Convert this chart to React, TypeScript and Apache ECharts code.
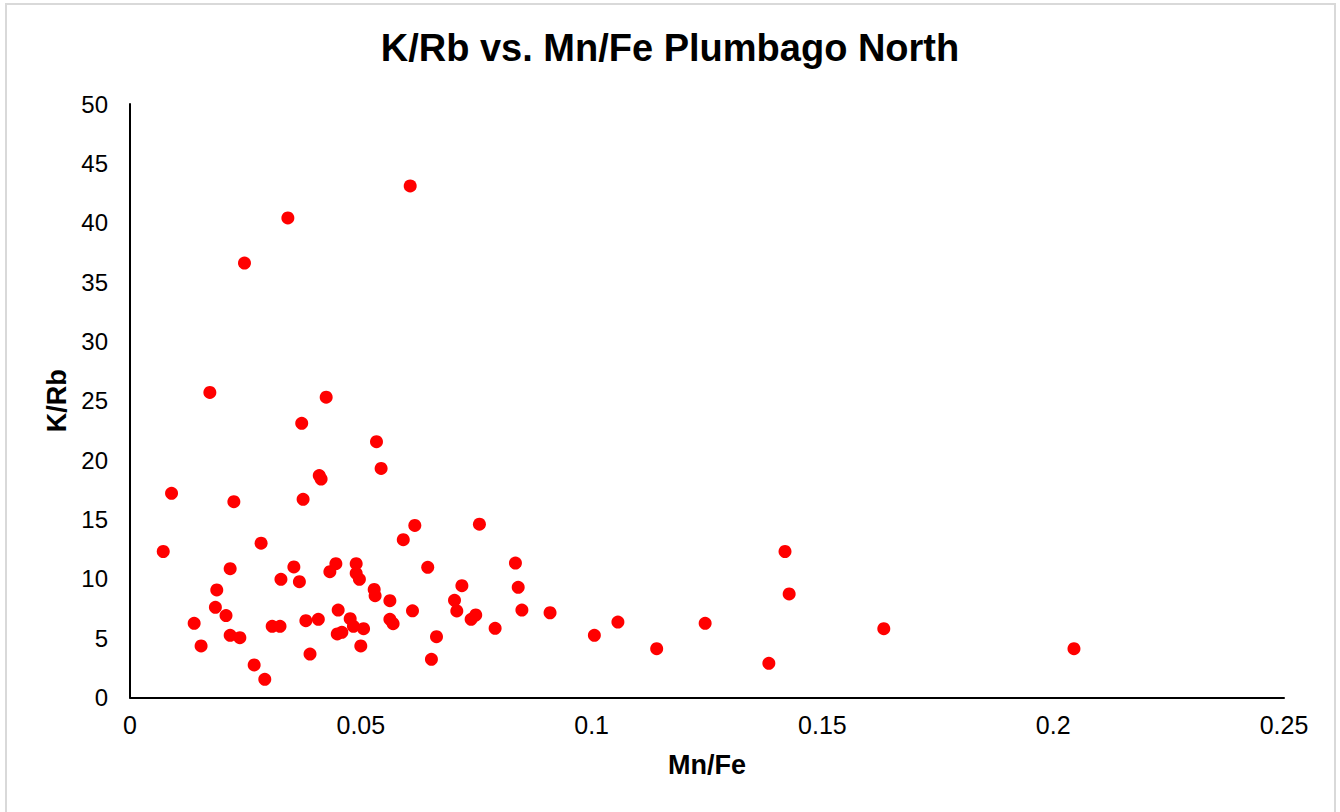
import React, { useEffect, useRef } from "react";
import * as echarts from "echarts";

const titleText = "K/Rb vs. Mn/Fe Plumbago North";
const xAxisName = "Mn/Fe";
const yAxisName = "K/Rb";

const mnFe: number[] = [
  0.0173, 0.0425, 0.0372, 0.0534, 0.0544, 0.041, 0.0414, 0.009, 0.0225, 0.0375,
  0.0617, 0.0592, 0.0072, 0.0284, 0.0217, 0.0355, 0.0327, 0.0367, 0.0446, 0.0433,
  0.049, 0.049, 0.0497, 0.0188, 0.0185, 0.0529, 0.0531, 0.0563, 0.0612, 0.0208,
  0.0451, 0.0139, 0.0308, 0.0325, 0.0381, 0.0408, 0.0477, 0.0484, 0.0506, 0.0563,
  0.057, 0.0449, 0.0459, 0.0217, 0.0238, 0.0154, 0.05, 0.039, 0.0269, 0.0292,
  0.0757, 0.0645, 0.0835, 0.0841, 0.0719, 0.0703, 0.0708, 0.0849, 0.091, 0.0749,
  0.0739, 0.0791, 0.0664, 0.0653, 0.1006, 0.1057, 0.1141, 0.1246, 0.1419, 0.1428,
  0.1384, 0.1633, 0.2045, 0.0607, 0.0342, 0.0248,
];

const kRb: number[] = [
  25.7, 25.3, 23.1, 21.55, 19.3, 18.7, 18.4, 17.2, 16.5, 16.7,
  14.5, 13.3, 12.3, 13.0, 10.85, 11.0, 9.96, 9.76, 11.27, 10.6,
  11.27, 10.46, 9.96, 9.06, 7.6, 9.1, 8.58, 8.16, 7.3, 6.9,
  7.37, 6.25, 6.0, 6.0, 6.47, 6.59, 6.64, 6.0, 5.8, 6.59,
  6.22, 5.35, 5.49, 5.24, 5.04, 4.34, 4.34, 3.66, 2.74, 1.53,
  14.6, 10.97, 11.33, 9.28, 9.42, 8.19, 7.29, 7.37, 7.14, 6.95,
  6.59, 5.83, 5.12, 3.22, 5.24, 6.36, 4.11, 6.25, 12.3, 8.72,
  2.88, 5.8, 4.11, 43.1, 40.4, 36.6,
];

const xTicks = { min: 0, max: 0.25, interval: 0.05 };
const yTicks = { min: 0, max: 50, interval: 5 };

export default function App() {
  const ref = useRef<HTMLDivElement>(null);
  useEffect(() => {
    if (!ref.current) return;
    const chart = echarts.init(ref.current, null, { renderer: "svg" });
    const font = "'Liberation Sans', Arial, sans-serif";
    chart.setOption({
      animation: false,
      backgroundColor: "#ffffff",
      textStyle: { fontFamily: font },
      title: {
        text: titleText,
        left: "center",
        top: 24,
        textStyle: { fontSize: 38, fontWeight: "bold", color: "#000", fontFamily: font },
      },
      graphic: [
        {
          type: "rect",
          shape: { x: 6, y: 4, width: 1329, height: 830 },
          style: { fill: "none", stroke: "#d9d9d9", lineWidth: 2 },
          silent: true,
        },
      ],
      grid: { left: 130, right: 56, top: 104, bottom: 114.5 },
      xAxis: {
        type: "value",
        min: xTicks.min,
        max: xTicks.max,
        interval: xTicks.interval,
        name: xAxisName,
        nameLocation: "middle",
        nameGap: 54,
        nameTextStyle: { fontSize: 27, fontWeight: "bold", color: "#000", fontFamily: font },
        axisLine: { show: true, lineStyle: { color: "#000", width: 2 } },
        axisTick: { show: false },
        splitLine: { show: false },
        axisLabel: { fontSize: 25, color: "#000", margin: 15, fontFamily: font },
      },
      yAxis: {
        type: "value",
        min: yTicks.min,
        max: yTicks.max,
        interval: yTicks.interval,
        name: yAxisName,
        nameLocation: "middle",
        nameGap: 59,
        nameTextStyle: { fontSize: 27, fontWeight: "bold", color: "#000", fontFamily: font },
        axisLine: { show: true, lineStyle: { color: "#000", width: 2 } },
        axisTick: { show: false },
        splitLine: { show: false },
        axisLabel: { fontSize: 24, color: "#000", margin: 22, fontFamily: font },
      },
      series: [
        {
          type: "scatter",
          data: mnFe.map((x, i) => [x, kRb[i]]),
          symbol: "circle",
          symbolSize: 13,
          itemStyle: { color: "#ff0000", opacity: 1 },
        },
      ],
    });
    return () => chart.dispose();
  }, []);
  return (
    <div
      ref={ref}
      style={{ position: "fixed", left: 0, top: 0, width: 1340, height: 812, background: "#fff" }}
    />
  );
}
